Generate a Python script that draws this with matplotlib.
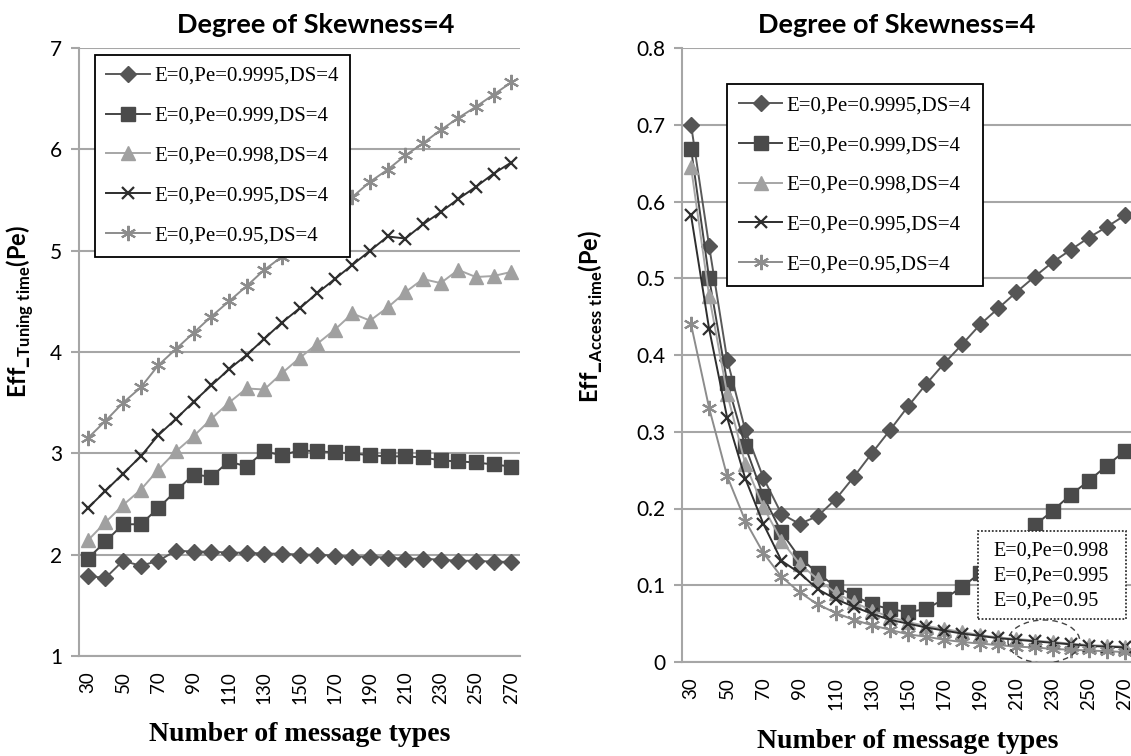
#!/usr/bin/env python3
"""Efficiency vs number of message types, degree of skewness 4."""

import matplotlib
matplotlib.use("Agg")
import matplotlib.pyplot as plt
from matplotlib.patches import Ellipse, Rectangle

plt.rcParams["mathtext.fontset"] = "custom"
plt.rcParams["mathtext.bf"] = "Lato:bold"
plt.rcParams["mathtext.rm"] = "Lato"

message_types = list(range(30, 271, 10))
tick_labels = list(range(30, 271, 20))

labels = [
    "E=0,Pe=0.9995,DS=4",
    "E=0,Pe=0.999,DS=4",
    "E=0,Pe=0.998,DS=4",
    "E=0,Pe=0.995,DS=4",
    "E=0,Pe=0.95,DS=4",
]

# tuning time efficiency
tuning_9995 = [1.79, 1.77, 1.94, 1.89, 1.94, 2.04, 2.03, 2.03, 2.02, 2.02, 2.01, 2.01, 2.00,
               2.00, 1.99, 1.98, 1.98, 1.97, 1.96, 1.96, 1.95, 1.94, 1.94, 1.93, 1.93]
tuning_999 = [1.96, 2.13, 2.30, 2.30, 2.46, 2.63, 2.79, 2.77, 2.92, 2.87, 3.02, 2.98, 3.03,
              3.02, 3.01, 3.00, 2.98, 2.97, 2.97, 2.96, 2.93, 2.92, 2.91, 2.89, 2.87]
tuning_998 = [2.14, 2.32, 2.49, 2.64, 2.84, 3.02, 3.17, 3.34, 3.50, 3.64, 3.63, 3.79, 3.94,
              4.08, 4.22, 4.38, 4.31, 4.44, 4.59, 4.72, 4.68, 4.81, 4.74, 4.75, 4.79]
tuning_995 = [2.46, 2.63, 2.80, 2.97, 3.18, 3.34, 3.51, 3.67, 3.83, 3.97, 4.13, 4.29, 4.43,
              4.58, 4.72, 4.86, 5.00, 5.14, 5.12, 5.26, 5.38, 5.51, 5.63, 5.76, 5.87]
tuning_95 = [3.15, 3.32, 3.50, 3.65, 3.87, 4.03, 4.19, 4.35, 4.50, 4.65, 4.81, 4.94, 5.09,
             5.24, 5.39, 5.53, 5.68, 5.80, 5.94, 6.06, 6.19, 6.31, 6.42, 6.54, 6.66]

# access time efficiency
access_9995 = [0.700, 0.542, 0.394, 0.302, 0.240, 0.193, 0.180, 0.190, 0.212, 0.241, 0.272,
               0.302, 0.333, 0.362, 0.389, 0.414, 0.440, 0.461, 0.482, 0.502, 0.521, 0.537,
               0.553, 0.567, 0.582]
access_999 = [0.669, 0.500, 0.364, 0.281, 0.216, 0.169, 0.136, 0.116, 0.098, 0.087, 0.075,
              0.069, 0.065, 0.069, 0.082, 0.098, 0.116, 0.137, 0.157, 0.178, 0.197, 0.218,
              0.236, 0.256, 0.275]
access_998 = [0.645, 0.477, 0.349, 0.258, 0.202, 0.158, 0.128, 0.108, 0.090, 0.078, 0.067,
              0.059, 0.052, 0.047, 0.043, 0.039, 0.035, 0.032, 0.030, 0.028, 0.026, 0.024,
              0.022, 0.021, 0.020]
access_995 = [0.582, 0.434, 0.318, 0.239, 0.180, 0.132, 0.116, 0.095, 0.082, 0.072, 0.063,
              0.055, 0.050, 0.045, 0.041, 0.037, 0.034, 0.031, 0.029, 0.027, 0.025, 0.023,
              0.021, 0.020, 0.019]
access_95 = [0.440, 0.331, 0.242, 0.184, 0.142, 0.111, 0.091, 0.075, 0.064, 0.055, 0.048,
             0.042, 0.036, 0.033, 0.029, 0.026, 0.024, 0.022, 0.020, 0.019, 0.017, 0.016,
             0.015, 0.014, 0.013]

STYLES = [
    dict(color="#595959", marker="D", markersize=8.5, mfc="#555555", mec="#555555"),
    dict(color="#454545", marker="s", markersize=10, mfc="#4a4a4a", mec="#4a4a4a"),
    dict(color="#a6a6a6", marker="^", markersize=10, mfc="#a0a0a0", mec="#a0a0a0"),
    dict(color="#2e2e2e", marker="x", markersize=9, mfc="#2e2e2e", mec="#2e2e2e", mew=1.6),
    dict(color="#8c8c8c", marker=(6, 2, 0), markersize=11, mfc="#8c8c8c", mec="#8c8c8c", mew=1.5),
]

GRID = "#a6a6a6"
SERIF = "Liberation Serif"
SANS = "Lato"


def style_axes(ax, ylim, yticks):
    ax.set_xlim(25, 275)
    ax.set_ylim(*ylim)
    ax.set_xticks(tick_labels)
    ax.set_xticklabels([str(t) for t in tick_labels], rotation=90, fontsize=13.5, family=SANS)
    ax.set_yticks(yticks)
    ax.set_yticklabels([f"{v:g}" for v in yticks], fontsize=15, family=SANS)
    ax.tick_params(axis="x", length=0, pad=11)
    ax.tick_params(axis="y", length=6, color=GRID, width=1.5, pad=6)
    ax.grid(axis="y", color=GRID, linewidth=1.5)
    ax.set_axisbelow(True)
    for side in ("top", "right"):
        ax.spines[side].set_visible(False)
    for side in ("left", "bottom"):
        ax.spines[side].set_color(GRID)
        ax.spines[side].set_linewidth(1.5)
    ax.set_xlabel("Number of message types", family=SERIF, fontweight="bold", fontsize=20)


def draw_series(ax, series):
    for values, label, style in zip(series, labels, STYLES):
        ax.plot(message_types, values, label=label, linewidth=1.4, clip_on=False, **style)


def add_legend(ax, anchor):
    leg = ax.legend(loc="upper left", bbox_to_anchor=anchor, frameon=True, fancybox=False,
                    prop={"family": SERIF, "size": 15}, labelspacing=0.97, handlelength=2.1,
                    handletextpad=0.2, borderpad=0.55, borderaxespad=0, framealpha=1)
    leg.get_frame().set_edgecolor("black")
    leg.get_frame().set_linewidth(1.3)
    return leg


fig = plt.figure(figsize=(11.31, 7.56), dpi=100)
ax1 = fig.add_axes([79 / 1131, 1 - 656 / 756, 441 / 1131, 608 / 756])
ax2 = fig.add_axes([682 / 1131, 1 - 662 / 756, 452 / 1131, 614 / 756])

draw_series(ax1, [tuning_9995, tuning_999, tuning_998, tuning_995, tuning_95])
style_axes(ax1, (1, 7), [1, 2, 3, 4, 5, 6, 7])
ax1.set_title("Degree of Skewness=4", family=SANS, fontweight="bold", fontsize=19.5, x=0.537, pad=11)
ax1.set_ylabel(r"$\mathbf{Eff\_}_{\mathbf{Tuning\ time}}\mathbf{(Pe)}$", fontsize=17)
ax1.yaxis.set_label_coords(-0.0975, 0.567)
ax1.xaxis.set_label_coords(0.5, -0.1086)
add_legend(ax1, (0.036, 0.9885))

draw_series(ax2, [access_9995, access_999, access_998, access_995, access_95])
style_axes(ax2, (0, 0.8), [0, 0.1, 0.2, 0.3, 0.4, 0.5, 0.6, 0.7, 0.8])
ax2.set_title("Degree of Skewness=4", family=SANS, fontweight="bold", fontsize=19.5, x=0.475, pad=11)
ax2.set_ylabel(r"$\mathbf{Eff\_}_{\mathbf{Access\ time}}\mathbf{(Pe)}$", fontsize=17)
ax2.yaxis.set_label_coords(-0.17, 0.562)
ax2.xaxis.set_label_coords(0.5, -0.109)
add_legend(ax2, (0.10, 0.941))

# callout for the overlapping curves
box = Rectangle((188.7, 0.056), 81.9, 0.1147, facecolor="white", edgecolor="#333333",
                linestyle=(0, (1, 1)), linewidth=1.3, zorder=5, clip_on=False)
ax2.add_patch(box)
ax2.text(197.5, 0.112, "E=0,Pe=0.998\nE=0,Pe=0.995\nE=0,Pe=0.95", family=SERIF, fontsize=14.5,
         va="center", ha="left", linespacing=1.4, zorder=6)
ax2.add_patch(Ellipse((225.2, 0.0267), 39.8, 0.056, facecolor="none", edgecolor="#444444",
                      linestyle=(0, (4, 3)), linewidth=1.0, zorder=6))

fig.savefig("out.png", dpi=100)
